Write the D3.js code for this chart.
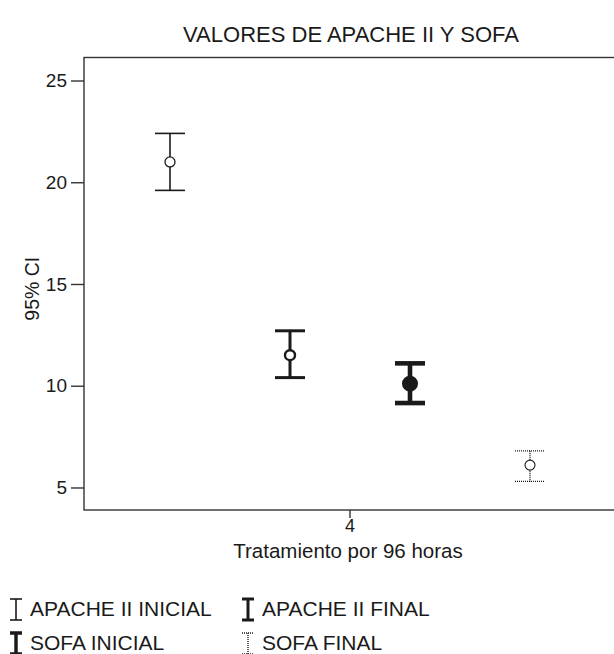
<!DOCTYPE html>
<html>
<head>
<meta charset="utf-8">
<script src="https://cdn.jsdelivr.net/npm/d3@7"></script>
<style>
  html, body { margin: 0; padding: 0; background: #fff; }
  svg { display: block; font-family: "Liberation Sans", Arial, sans-serif; }
</style>
</head>
<body>
<svg id="chart" width="614" height="654"></svg>
<script>
// Group on the x axis and the four interval series plotted within it
const categories = ["4"];
const series = ["APACHE II INICIAL", "APACHE II FINAL", "SOFA INICIAL", "SOFA FINAL"];
const means = [21.0, 11.5, 10.1, 6.1];
const lower = [19.6, 10.4, 9.15, 5.3];
const upper = [22.4, 12.7, 11.1, 6.8];
const yTicks = [5, 10, 15, 20, 25];

// Line style for each series' interval bar
const styles = {
  "APACHE II INICIAL": { w: 1.6, dash: null, r: 5, cw: 1.3 },
  "APACHE II FINAL":   { w: 3.0, dash: null, r: 5, cw: 2.4 },
  "SOFA INICIAL":      { w: 4.6, dash: null, r: 6, cw: 4.0 },
  "SOFA FINAL":        { w: 1.4, dash: "1,1", r: 5, cw: 1.1 }
};

const svg = d3.select("#chart");
const ink = "#1a1a1a";
const frame = { left: 84, right: 616, top: 57.5, bottom: 510 };

const y = d3.scaleLinear().domain([3.894, 26.13]).range([frame.bottom, frame.top]);
const x = d3.scaleBand().domain(categories).range([frame.left, frame.right]);
const xs = d3.scalePoint().domain(series).range([-180, 180]);

// Title
svg.append("text")
  .attr("x", 351).attr("y", 42)
  .attr("text-anchor", "middle")
  .attr("font-size", 22).attr("fill", ink)
  .text("VALORES DE APACHE II Y SOFA");

// Plot frame
svg.append("rect")
  .attr("x", frame.left).attr("y", frame.top)
  .attr("width", frame.right - frame.left).attr("height", frame.bottom - frame.top)
  .attr("fill", "none").attr("stroke", "#333").attr("stroke-width", 1.4);

// Y axis
const yAxis = svg.append("g")
  .attr("transform", `translate(${frame.left},0)`)
  .call(d3.axisLeft(y).tickValues(yTicks).tickSize(13).tickPadding(4));
yAxis.select(".domain").remove();
yAxis.selectAll("line").attr("stroke", "#333").attr("stroke-width", 1.4);
yAxis.selectAll("text").attr("font-size", 19).attr("fill", ink)
  .attr("font-family", "Liberation Sans, Arial, sans-serif");

svg.append("text")
  .attr("transform", `translate(39,${(frame.top + frame.bottom) / 2 + 5}) rotate(-90)`)
  .attr("text-anchor", "middle")
  .attr("font-size", 19.5).attr("fill", ink)
  .text("95% CI");

// X axis
const xAxis = svg.append("g")
  .attr("transform", `translate(0,${frame.bottom})`)
  .call(d3.axisBottom(x).tickSize(8).tickPadding(1));
xAxis.select(".domain").remove();
xAxis.selectAll("line").attr("stroke", "#333").attr("stroke-width", 1.4);
xAxis.selectAll("text").attr("font-size", 18).attr("fill", ink)
  .attr("font-family", "Liberation Sans, Arial, sans-serif");

svg.append("text")
  .attr("x", 348).attr("y", 558)
  .attr("text-anchor", "middle")
  .attr("font-size", 20.5).attr("fill", ink)
  .text("Tratamiento por 96 horas");

// Interval bars
const data = series.map((s, i) => ({ s, mean: means[i], lo: lower[i], hi: upper[i], cat: categories[0] }));
const capHalf = 15;

const bars = svg.append("g").selectAll("g").data(data).join("g")
  .attr("transform", d => `translate(${x(d.cat) + x.bandwidth() / 2 + xs(d.s)},0)`);

bars.each(function (d) {
  const g = d3.select(this);
  const st = styles[d.s];
  const line = (x1, y1, x2, y2) => g.append("line")
    .attr("x1", x1).attr("y1", y1).attr("x2", x2).attr("y2", y2)
    .attr("stroke", ink).attr("stroke-width", st.w)
    .attr("stroke-dasharray", st.dash);
  line(0, y(d.hi), 0, y(d.lo));
  line(-capHalf, y(d.hi), capHalf, y(d.hi));
  line(-capHalf, y(d.lo), capHalf, y(d.lo));
  g.append("circle")
    .attr("cx", 0).attr("cy", y(d.mean)).attr("r", st.r)
    .attr("fill", d.s === "SOFA INICIAL" ? ink : "#fff")
    .attr("stroke", ink).attr("stroke-width", st.cw);
});

// Legend
const legendPos = [
  { x: 16, y: 616 }, { x: 248, y: 616 },
  { x: 16, y: 650 }, { x: 248, y: 650 }
];
series.forEach((s, i) => {
  const st = styles[s];
  const p = legendPos[i];
  const g = svg.append("g").attr("transform", `translate(${p.x},${p.y})`);
  const top = -17, bot = 4, hw = 6;
  const seg = (x1, y1, x2, y2) => g.append("line")
    .attr("x1", x1).attr("y1", y1).attr("x2", x2).attr("y2", y2)
    .attr("stroke", ink).attr("stroke-width", Math.min(st.w, 3.5))
    .attr("stroke-dasharray", st.dash);
  seg(0, top, 0, bot);
  seg(-hw, top, hw, top);
  seg(-hw, bot, hw, bot);
  g.append("text")
    .attr("x", 14).attr("y", 0)
    .attr("font-size", 21).attr("fill", ink)
    .text(s);
});
</script>
</body>
</html>
